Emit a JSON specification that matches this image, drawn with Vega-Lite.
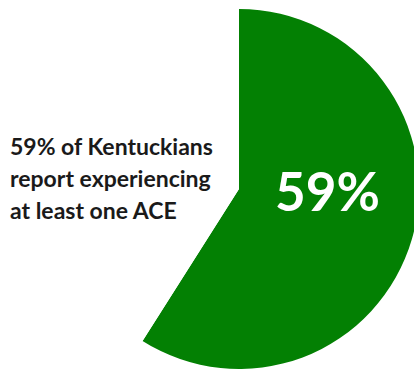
{
  "$schema": "https://vega.github.io/schema/vega-lite/v6.json",
  "width": 358,
  "height": 378,
  "autosize": "none",
  "padding": {"left": 60, "top": 0, "right": 0, "bottom": 0},
  "background": "white",
  "view": {"stroke": null},
  "data": {
    "values": [
      {"group": "Yes", "value": 59, "idx": 1, "label": "59%"},
      {"group": "No", "value": 41, "idx": 2, "label": ""}
    ]
  },
  "layer": [
    {
      "mark": {"type": "arc", "outerRadius": 180, "strokeWidth": 0},
      "encoding": {
        "theta": {"field": "value", "type": "quantitative", "stack": true},
        "order": {"field": "idx", "type": "quantitative"},
        "color": {
          "field": "group",
          "type": "nominal",
          "scale": {"domain": ["Yes", "No"], "range": ["#038003", "#ffffff"]},
          "legend": null
        }
      }
    },
    {
      "mark": {"type": "text", "radius": 88, "dx": 4, "dy": -19, "font": "Lato", "fontWeight": "bold", "fontSize": 53, "color": "white", "align": "center", "baseline": "middle"},
      "encoding": {
        "theta": {"field": "value", "type": "quantitative", "stack": true},
        "order": {"field": "idx", "type": "quantitative"},
        "text": {"field": "label"}
      }
    },
    {
      "data": {"values": [{"note": ["59% of Kentuckians", "report experiencing", "at least one ACE"]}]},
      "mark": {"type": "text", "align": "left", "baseline": "middle", "dx": -229, "dy": -41, "font": "Lato", "fontWeight": "bold", "fontSize": 23, "lineHeight": 32, "color": "#1a1a1a"},
      "encoding": {"text": {"field": "note"}}
    }
  ]
}
